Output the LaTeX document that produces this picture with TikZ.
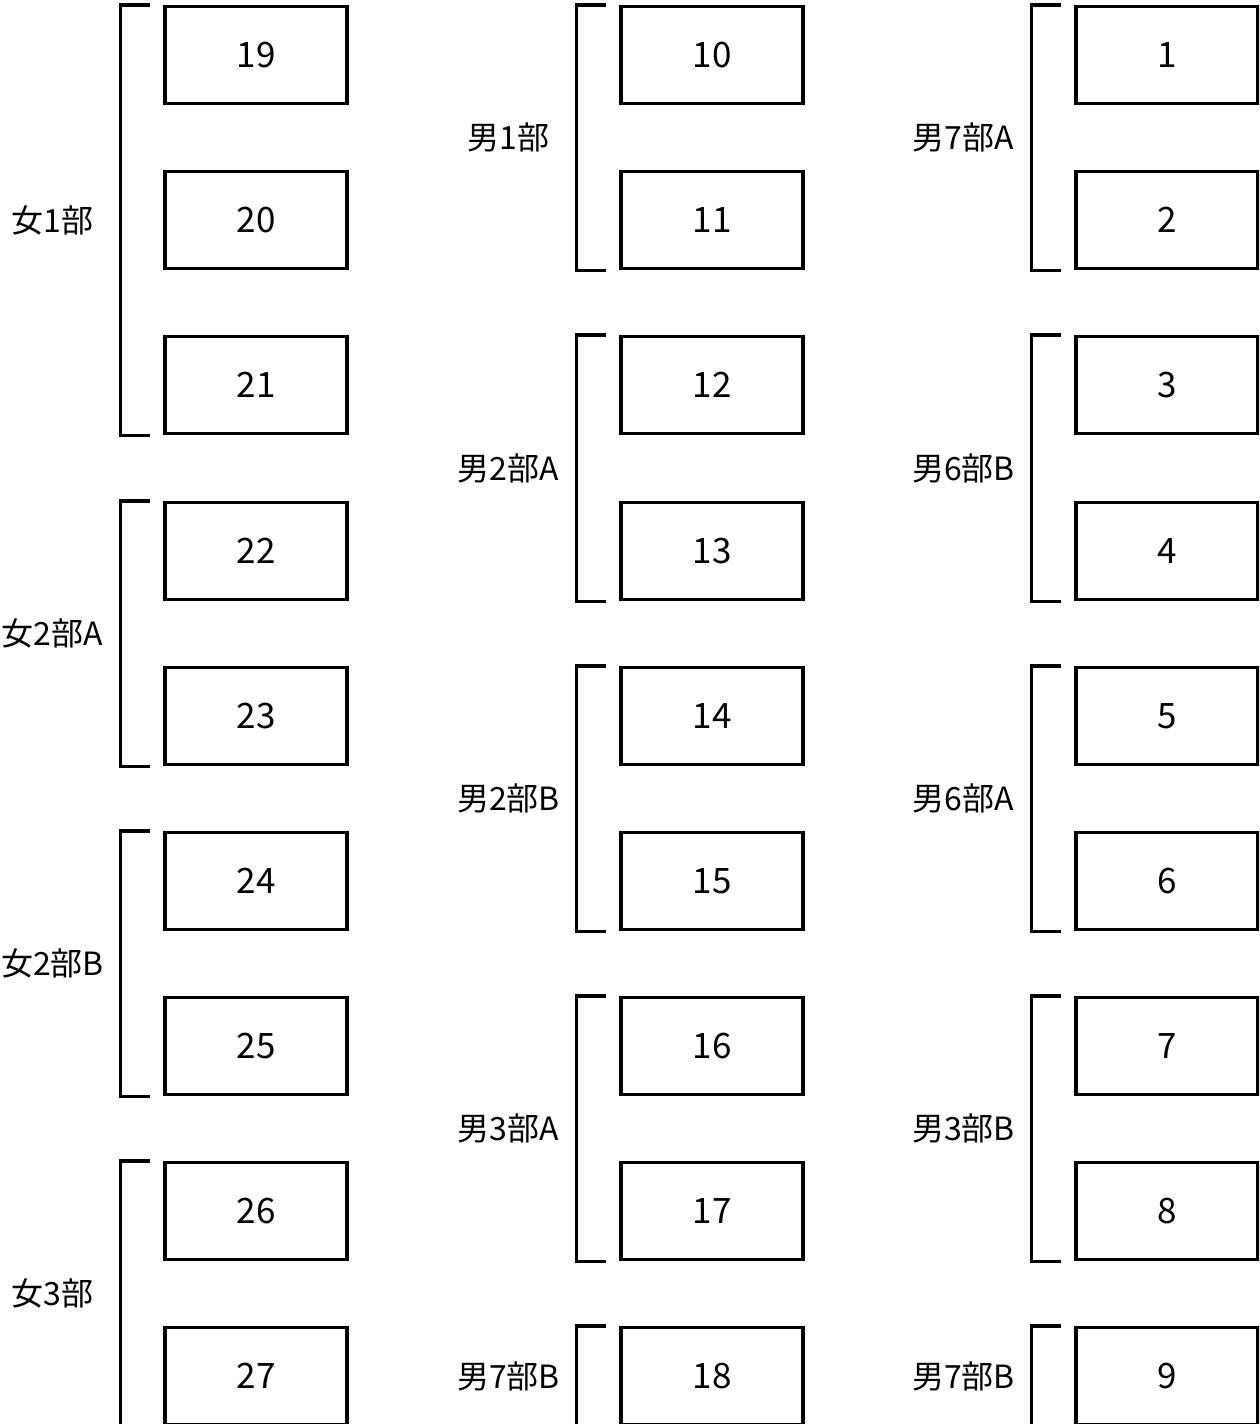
\documentclass[tikz,border=0pt]{standalone}
\usepackage{fontspec}
\setmainfont{Noto Sans CJK JP}
\usepackage{tikz}
\usetikzlibrary{calc}

% one bracket per group: top seat, bottom seat, group name
\newcommand{\seatgroup}[4]{%
  \draw[brk] ([xshift=-13pt]#2.north west) -- ([xshift=-43pt]#2.north west)
    |- ([xshift=-13pt]#3.south west);
  \node[grp] (#1) at ($($(#2.north west)!0.5!(#3.south west)$)+(-111pt,0)$) {#4};
}

\begin{document}
\begin{tikzpicture}[x=1pt,y=-1pt,
  seat/.style={draw,line width=3.2pt,minimum width=182pt,minimum height=97pt,
               inner sep=0pt,font=\fontsize{35}{40}\selectfont},
  brk/.style={line width=3.2pt},
  grp/.style={font=\fontsize{32}{38}\selectfont,inner sep=0pt},
]
\useasboundingbox[clip] (0,0) rectangle (1259,1424);
% left column
\node[seat] (s19) at (256,55) {19};
\node[seat] (s20) at (256,220) {20};
\node[seat] (s21) at (256,385) {21};
\node[seat] (s22) at (256,551) {22};
\node[seat] (s23) at (256,716) {23};
\node[seat] (s24) at (256,881) {24};
\node[seat] (s25) at (256,1046) {25};
\node[seat] (s26) at (256,1211) {26};
\node[seat] (s27) at (256,1376) {27};
% middle column
\node[seat] (s10) at (712,55) {10};
\node[seat] (s11) at (712,220) {11};
\node[seat] (s12) at (712,385) {12};
\node[seat] (s13) at (712,551) {13};
\node[seat] (s14) at (712,716) {14};
\node[seat] (s15) at (712,881) {15};
\node[seat] (s16) at (712,1046) {16};
\node[seat] (s17) at (712,1211) {17};
\node[seat] (s18) at (712,1376) {18};
% right column
\node[seat] (s1) at (1167,55) {1};
\node[seat] (s2) at (1167,220) {2};
\node[seat] (s3) at (1167,385) {3};
\node[seat] (s4) at (1167,551) {4};
\node[seat] (s5) at (1167,716) {5};
\node[seat] (s6) at (1167,881) {6};
\node[seat] (s7) at (1167,1046) {7};
\node[seat] (s8) at (1167,1211) {8};
\node[seat] (s9) at (1167,1376) {9};

\seatgroup{w1}{s19}{s21}{女1部}
\seatgroup{w2a}{s22}{s23}{女2部A}
\seatgroup{w2b}{s24}{s25}{女2部B}
\seatgroup{w3}{s26}{s27}{女3部}
\seatgroup{m1}{s10}{s11}{男1部}
\seatgroup{m2a}{s12}{s13}{男2部A}
\seatgroup{m2b}{s14}{s15}{男2部B}
\seatgroup{m3a}{s16}{s17}{男3部A}
\seatgroup{m7b}{s18}{s18}{男7部B}
\seatgroup{m7a}{s1}{s2}{男7部A}
\seatgroup{m6b}{s3}{s4}{男6部B}
\seatgroup{m6a}{s5}{s6}{男6部A}
\seatgroup{m3b}{s7}{s8}{男3部B}
\seatgroup{m7c}{s9}{s9}{男7部B}
\end{tikzpicture}
\end{document}
